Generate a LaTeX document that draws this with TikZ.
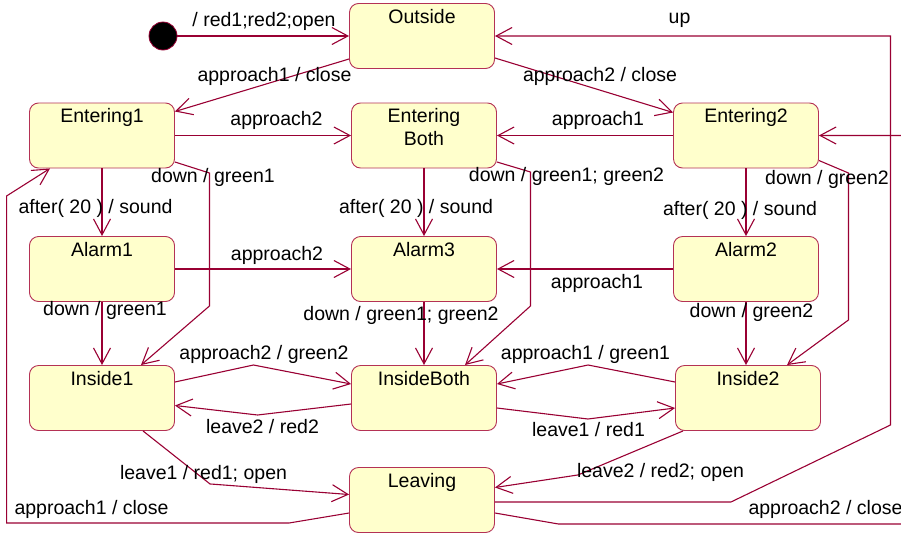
\documentclass[tikz,border=0pt]{standalone}
\usepackage{fontspec}
\setmainfont{Liberation Sans}
\usetikzlibrary{arrows.meta,calc}
\definecolor{LineClr}{RGB}{153,0,51}
\definecolor{BoxClr}{RGB}{180,50,85}
\definecolor{FillClr}{RGB}{255,255,204}

\tikzset{
  state/.style={rectangle,rounded corners=9pt,draw=BoxClr,fill=FillClr,line width=0.9pt,
    minimum width=145pt,minimum height=65pt,inner sep=0pt},
  statename/.style={anchor=north,inner sep=6pt,align=center,font=\fontsize{19.5}{23}\selectfont},
  init/.style={circle,fill=black,draw=LineClr,line width=0.8pt,minimum size=28pt,inner sep=0pt},
  trans/.style={draw=LineClr,line width=1.1pt,-{Straight Barb[length=16pt,width=17pt]}},
  lbl/.style={inner sep=0pt,font=\fontsize{19.5}{23}\selectfont,text height=14pt,text depth=4pt},
}

\begin{document}
\begin{tikzpicture}[x=1pt,y=-1pt]
\useasboundingbox (0,0) rectangle (901,533);
\clip (0,0) rectangle (901,533);

% States.
\node[init] (init) at (163,36) {};
\node[state] (outside) at (422,36) {};
\node[state] (entering1) at (102,135.5) {};
\node[state] (enteringBoth) at (424,135.5) {};
\node[state] (entering2) at (746,135.5) {};
\node[state] (alarm1) at (102,269) {};
\node[state] (alarm3) at (424,269) {};
\node[state] (alarm2) at (746,269) {};
\node[state] (inside1) at (102,398) {};
\node[state] (insideBoth) at (424,398) {};
\node[state] (inside2) at (748,398) {};
\node[state] (leaving) at (422,500) {};

\node[statename] (outsideN) at (outside.north) {Outside};
\node[statename] (entering1N) at (entering1.north) {Entering1};
\node[statename] (enteringBothN) at (enteringBoth.north) {Entering\\Both};
\node[statename] (entering2N) at (entering2.north) {Entering2};
\node[statename] (alarm1N) at (alarm1.north) {Alarm1};
\node[statename] (alarm3N) at (alarm3.north) {Alarm3};
\node[statename] (alarm2N) at (alarm2.north) {Alarm2};
\node[statename] (inside1N) at (inside1.north) {Inside1};
\node[statename] (insideBothN) at (insideBoth.north) {InsideBoth};
\node[statename] (inside2N) at (inside2.north) {Inside2};
\node[statename] (leavingN) at (leaving.north) {Leaving};

% Transitions.
\draw[trans] (init) -- (outside);
\draw[trans] ([shift={(0,23)}]outside.west) -- ([shift={(0,-24)}]entering1.east);
\draw[trans] ([shift={(0,22)}]outside.east) -- ([shift={(0,-23)}]entering2.west);
\draw[trans] (entering1) -- (enteringBoth);
\draw[trans] (entering2) -- (enteringBoth);
\draw[trans] (entering1) -- (alarm1);
\draw[trans] (enteringBoth) -- (alarm3);
\draw[trans] (entering2) -- (alarm2);
\draw[trans] (alarm1) -- (alarm3);
\draw[trans] (alarm2) -- (alarm3);
\draw[trans] (alarm1) -- (inside1);
\draw[trans] (alarm3) -- (insideBoth);
\draw[trans] (alarm2.south) -- (alarm2.south |- inside2.north);

\draw[trans] ([shift={(0,26.5)}]entering1.east) -- ++(34.5,11) -- ++(0,133)
  -- ([shift={(39,0)}]inside1.north);
\draw[trans] ([shift={(0,26.5)}]enteringBoth.east) -- ++(33.5,10) -- ++(0,134)
  -- ([shift={(41,0)}]insideBoth.north);
\draw[trans] ([shift={(0,25)}]entering2.east) -- ++(29.5,12.5) -- ++(0,147)
  -- ([shift={(39,0)}]inside2.north);

\draw[trans] ([shift={(0,-16)}]inside1.east) -- ++(78.5,-17) -- ([shift={(0,-14)}]insideBoth.west);
\draw[trans] ([shift={(0,6)}]insideBoth.west) -- ++(-93.5,11) -- ([shift={(0,7.5)}]inside1.east);
\draw[trans] ([shift={(0,-16)}]inside2.west) -- ++(-87,-17) -- ([shift={(0,-14)}]insideBoth.east);
\draw[trans] ([shift={(0,10)}]insideBoth.east) -- ++(91,11) -- ([shift={(0,10)}]inside2.west);

\draw[trans] ([shift={(41,0)}]inside1.south) -- ++(67,53) -- ([shift={(0,-5.5)}]leaving.west);
\draw[trans] ([shift={(-65,0)}]inside2.south) -- ++(-105,44) -- ([shift={(0,-12.5)}]leaving.east);

% Back from Leaving.
\draw[trans] ([shift={(0,13)}]leaving.west) -- ++(-60,10) -- ++(-282.5,0) -- ++(0,-327)
  -- ([shift={(-52,0)}]entering1.south);
\draw[trans] ([shift={(0,2)}]leaving.east) -- ++(236,0) -- ++(159.5,-77) |- (outside.east);
\draw[trans] ([shift={(0,13)}]leaving.east) -- ++(63.5,11) -- ++(372,0) |- (entering2.east);

% Labels.
\node[lbl] (lInit) at (264,21.5) {/ red1;red2;open};
\node[lbl] (lA1Close) at (274.5,76.5) {approach1 / close};
\node[lbl] (lA2Close) at (600,76.5) {approach2 / close};
\node[lbl] (lUp) at (679.5,18.5) {up};
\node[lbl] (lA2Top) at (276.5,120) {approach2};
\node[lbl] (lA1Top) at (598,120) {approach1};
\node[lbl] (lDown1) at (213,177) {down / green1};
\node[lbl] (lDownBoth) at (566.5,176) {down / green1; green2};
\node[lbl] (lDown2) at (827,179) {down / green2};
\node[lbl] (lAfter1) at (95.5,208.5) {after( 20 ) / sound};
\node[lbl] (lAfterBoth) at (416,208.5) {after( 20 ) / sound};
\node[lbl] (lAfter2) at (740,210) {after( 20 ) / sound};
\node[lbl] (lA2Mid) at (277,255) {approach2};
\node[lbl] (lA1Mid) at (597,283) {approach1};
\node[lbl] (lAlarmDown1) at (105,310) {down / green1};
\node[lbl] (lAlarmDownBoth) at (401,315) {down / green1; green2};
\node[lbl] (lAlarmDown2) at (751.5,312) {down / green2};
\node[lbl] (lA2Green) at (264,354) {approach2 / green2};
\node[lbl] (lA1Green) at (585.5,354) {approach1 / green1};
\node[lbl] (lLeave2) at (262.5,428) {leave2 / red2};
\node[lbl] (lLeave1) at (588.5,431) {leave1 / red1};
\node[lbl] (lLeave1Open) at (203.5,474) {leave1 / red1; open};
\node[lbl] (lLeave2Open) at (660.5,472) {leave2 / red2; open};
\node[lbl] (lA1Back) at (91.5,509) {approach1 / close};
\node[lbl] (lA2Back) at (825.5,509) {approach2 / close};

\end{tikzpicture}
\end{document}
